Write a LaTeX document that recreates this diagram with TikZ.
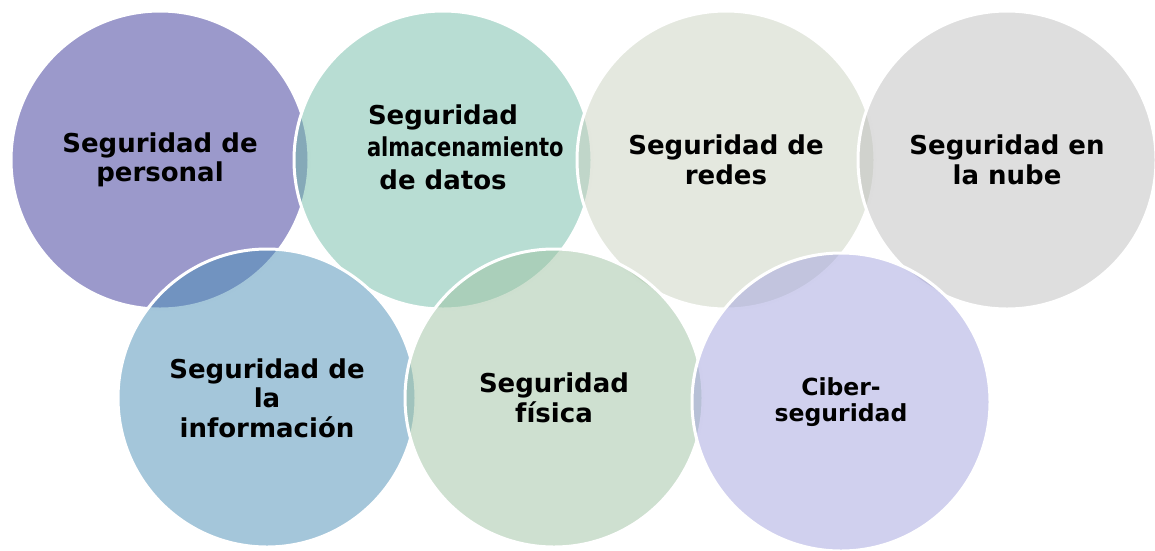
\documentclass[tikz,border=0pt]{standalone}
\usepackage{fontspec}
\setmainfont{DejaVu Sans}
\usetikzlibrary{positioning}

\definecolor{personalc}{RGB}{55,51,151}
\definecolor{datosc}{RGB}{113,187,167}
\definecolor{redesc}{RGB}{201,209,191}
\definecolor{nubec}{RGB}{189,189,189}
\definecolor{infoc}{RGB}{73,141,181}
\definecolor{fisicac}{RGB}{157,193,161}
\definecolor{ciberc}{RGB}{161,161,221}

\tikzset{
  bubble/.style={circle, minimum size=298pt, inner sep=0pt, draw=white, line width=3pt,
    fill opacity=0.5, text opacity=1, align=center,
    font=\fontsize{26}{29.5}\selectfont\bfseries}
}

\begin{document}
\begin{tikzpicture}[x=1pt, y=-1pt]
			\useasboundingbox (0, 0) rectangle (1155, 550);
			% fila de arriba
			\node [bubble, fill=personalc] (personal) at (160, 160) {Seguridad de\\personal};
			\node [bubble, fill=datosc, font=\fontsize{26}{32.5}\selectfont\bfseries] (datos) at (443, 160)
			{Seguridad\\\makebox[152pt][l]{\scalebox{0.81}[1]{almacenamiento}}\\de datos\\[-6pt]\mbox{}};
			\node [bubble, fill=redesc] (redes) at (726, 160) {Seguridad de\\redes};
			\node [bubble, fill=nubec] (nube) at (1007, 160) {Seguridad en\\la nube};
			% fila de abajo
			\node [bubble, fill=infoc] (info) at (267, 398) {Seguridad de\\la\\información};
			\node [bubble, fill=fisicac] (fisica) at (554, 398) {Seguridad\\física};
			\node [bubble, fill=ciberc, font=\fontsize{23.5}{25.5}\selectfont\bfseries] (ciber) at (841, 402) {Ciber-\\seguridad};
		\end{tikzpicture}
\end{document}
